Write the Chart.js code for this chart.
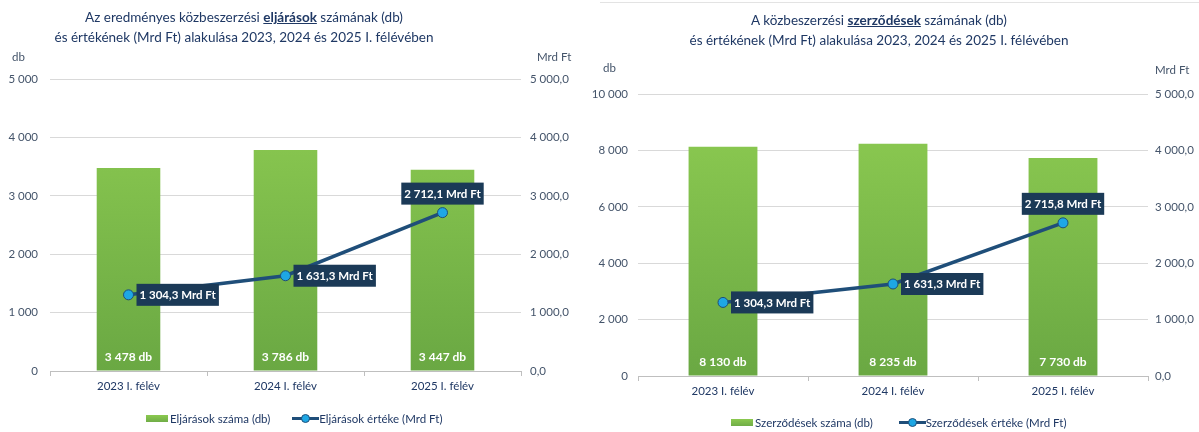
<!DOCTYPE html>
<html><head><meta charset="utf-8">
<script src="https://cdn.jsdelivr.net/npm/chart.js@4/dist/chart.umd.min.js"></script>
<style>
html,body{margin:0;padding:0;background:#fff;}
body{width:1199px;height:432px;position:relative;overflow:hidden;font-family:Lato,"Open Sans",sans-serif;}
.wrap{position:absolute;top:0;height:432px;}
.title{position:absolute;color:#1f3864;font-size:13.5px;line-height:20px;text-align:center;white-space:nowrap;}
.title b{text-decoration:underline;}
.ax{position:absolute;color:#44546a;font-size:11.5px;}
.legend{position:absolute;color:#1f3864;font-size:11.5px;white-space:nowrap;display:flex;align-items:center;}
.legend .box{display:inline-block;width:22px;height:7px;background:linear-gradient(#8bc94f,#70ad47);margin-right:2px;}
.legend .ln{display:inline-block;width:27px;height:10px;position:relative;margin-left:22px;margin-right:0px;}
.legend .ln:before{content:"";position:absolute;left:0;right:0;top:3.5px;height:3px;background:#1f4e79;}
.legend .ln:after{content:"";position:absolute;border-radius:50%;background:#1ea7e4;border:1px solid #1f4e79;width:7px;height:7px;left:9px;top:0.5px;}
.topline{position:absolute;left:600px;top:2px;width:599px;height:1px;background:#e3e3e3;}
</style></head>
<body>
<div class="topline"></div>
<div class="wrap" style="left:0;width:585px;"><canvas id="c1" width="585" height="432"></canvas></div>
<div class="wrap" style="left:585px;width:614px;"><canvas id="c2" width="614" height="432"></canvas></div>
<div class="title" style="left:244px;top:7px;transform:translateX(-50%);">Az eredményes közbeszerzési <b>eljárások</b> számának (db)<br>és értékének (Mrd Ft) alakulása 2023, 2024 és 2025 I. félévében</div>
<div class="title" style="left:879px;top:10px;transform:translateX(-50%);">A közbeszerzési <b>szerződések</b> számának (db)<br>és értékének (Mrd Ft) alakulása 2023, 2024 és 2025 I. félévében</div>
<div class="ax" style="left:12px;top:50px;">db</div>
<div class="ax" style="left:537px;top:50px;">Mrd Ft</div>
<div class="ax" style="left:603px;top:61px;">db</div>
<div class="ax" style="left:1155px;top:63px;">Mrd Ft</div>
<div class="legend" style="left:146px;top:412px;"><span class="box"></span>Eljárások száma (db)<span class="ln"></span>Eljárások értéke (Mrd Ft)</div>
<div class="legend" style="left:731px;top:416px;"><span class="box"></span>Szerződések száma (db)<span class="ln" style="margin-left:26px"></span>Szerződések értéke (Mrd Ft)</div>
<script>
const categories = ["2023 I. félév","2024 I. félév","2025 I. félév"];
const eljarasSzama = [3478, 3786, 3447];
const eljarasErteke = [1304.3, 1631.3, 2712.1];
const szerzodesSzama = [8130, 8235, 7730];
const szerzodesErteke = [1304.3, 1631.3, 2715.8];
const leftMax1 = 5000, leftStep1 = 1000;
const leftMax2 = 10000, leftStep2 = 2000;
const rightMax = 5000, rightStep = 1000;

function fmt(v, dec){
  const s = v.toFixed(dec).split('.');
  const int = s[0].replace(/\B(?=(\d{3})+(?!\d))/g,' ');
  return dec ? int + ',' + s[1] : int;
}

const labelPlugin = {
  id:'labels',
  afterDatasetsDraw(chart){
    const ctx = chart.ctx;
    ctx.save();
    const bm = chart.getDatasetMeta(0);
    ctx.font = 'bold 12px Lato, sans-serif';
    ctx.fillStyle = '#ffffff';
    ctx.textAlign='center'; ctx.textBaseline='middle';
    bm.data.forEach((el,i)=>{
      ctx.fillText(fmt(chart.data.datasets[0].data[i],0)+' db', el.x, el.base - 13);
    });
    ctx.font = 'bold 11.5px Lato, sans-serif';
    const lm = chart.getDatasetMeta(1);
    lm.data.forEach((el,i)=>{
      const txt = fmt(chart.data.datasets[1].data[i],1)+' Mrd Ft';
      const w = ctx.measureText(txt).width + 6, h = 22;
      let bx, by;
      if(i < 2){ bx = el.x + 8; by = el.y - h/2; }
      else { bx = el.x - w/2; by = el.y - 8 - h; }
      ctx.fillStyle = '#1b3a57';
      ctx.fillRect(bx, by, w, h);
      ctx.fillStyle = '#ffffff';
      ctx.fillText(txt, bx + w/2, by + h/2 + 0.5);
    });
    ctx.restore();
  }
};

function makeChart(id, bars, line, leftMax, leftStep, geo){
  const ctx = document.getElementById(id);
  return new Chart(ctx, {
    data:{
      labels: categories,
      datasets:[
        {type:'bar', data: bars, yAxisID:'y', order:2,
         backgroundColor(c){
           const ca = c.chart.chartArea; if(!ca) return '#7dbb4b';
           const g = c.chart.ctx.createLinearGradient(0, ca.top, 0, ca.bottom);
           g.addColorStop(0,'#8fcd52'); g.addColorStop(1,'#6aa843'); return g;
         },
         categoryPercentage:1, barPercentage:0.405},
        {type:'line', data: line, yAxisID:'y1', order:1,
         borderColor:'#1f4e79', borderWidth:3.5, pointRadius:5, pointHoverRadius:5,
         pointBackgroundColor:'#1ea7e4', pointBorderColor:'#1f4e79', pointBorderWidth:1, tension:0}
      ]
    },
    options:{
      responsive:false, animation:false,
      layout:{padding:{left:0,right:0,top:geo.top,bottom:432-geo.bottom-30}},
      plugins:{legend:{display:false}, tooltip:{enabled:false}},
      scales:{
        x:{
          offset:true,
          grid:{offset:true, drawOnChartArea:false, drawTicks:true, tickLength:5, color:'#bfbfbf'},
          border:{display:true, color:'#bfbfbf'},
          ticks:{color:'#1f3864', font:{family:'Lato', size:11.5}, padding:3},
          afterFit(s){ s.height = 30; }
        },
        y:{
          position:'left', min:0, max:leftMax,
          ticks:{stepSize:leftStep, color:'#44546a', padding:geo.lpad, font:{family:'Lato', size:11.5},
                 callback:v=>fmt(v,0)},
          grid:{color:'#d9d9d9', drawTicks:false, lineWidth:1},
          border:{display:false},
          afterFit(s){ s.width = geo.left; }
        },
        y1:{
          position:'right', min:0, max:rightMax,
          ticks:{stepSize:rightStep, color:'#44546a', padding:geo.rpad, font:{family:'Lato', size:11.5},
                 callback:v=>fmt(v,1)},
          grid:{display:false, drawTicks:false},
          border:{display:false},
          afterFit(s){ s.width = geo.rightW; }
        }
      }
    },
    plugins:[labelPlugin]
  });
}

makeChart('c1', eljarasSzama, eljarasErteke, leftMax1, leftStep1,
  {top:79, bottom:371, left:50, lpad:12, rightW:64, rpad:9});
makeChart('c2', szerzodesSzama, szerzodesErteke, leftMax2, leftStep2,
  {top:94, bottom:376, left:53, lpad:10, rightW:51, rpad:7});
</script>
</body></html>
